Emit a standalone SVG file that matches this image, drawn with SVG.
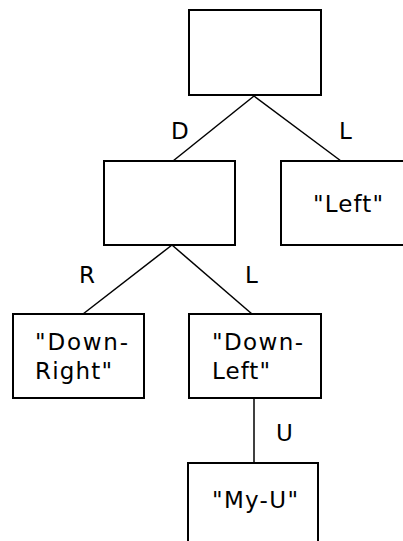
<svg xmlns="http://www.w3.org/2000/svg" width="403" height="541" viewBox="0 0 403 541">
  <style>
    .box { fill: #ffffff; stroke: #000000; stroke-width: 2; }
    .edge { fill: none; stroke: #000000; stroke-width: 1.5; }
    text { font-family: "DejaVu Sans", "Liberation Sans", sans-serif; font-size: 23px; fill: #000000; }
  </style>
  <rect width="403" height="541" fill="#ffffff"/>

  <g id="connectors">
    <line class="edge" x1="254" y1="96" x2="173" y2="161"/>
    <line class="edge" x1="254" y1="96" x2="341" y2="161"/>
    <line class="edge" x1="172" y1="245" x2="83" y2="314"/>
    <line class="edge" x1="172" y1="245" x2="252" y2="314"/>
    <line class="edge" x1="254" y1="397" x2="254" y2="463"/>
    <text x="171" y="139">D</text>
    <text x="339" y="139">L</text>
    <text x="79" y="283">R</text>
    <text x="245" y="283">L</text>
    <text x="276" y="441">U</text>
  </g>

  <g id="root">
    <rect class="box" x="189" y="10" width="132" height="85"/>
  </g>

  <g id="down">
    <rect class="box" x="104" y="161" width="131" height="84"/>
  </g>

  <g id="left">
    <rect class="box" x="281" y="161" width="140" height="84"/>
    <text x="313" y="212" textLength="70" lengthAdjust="spacing">"Left"</text>
  </g>

  <g id="down-right">
    <rect class="box" x="13" y="314" width="131" height="84"/>
    <text x="35" y="350" textLength="93" lengthAdjust="spacing">"Down-</text>
    <text x="35" y="379" textLength="77" lengthAdjust="spacing">Right"</text>
  </g>

  <g id="down-left">
    <rect class="box" x="189" y="314" width="132" height="84"/>
    <text x="212" y="350" textLength="91" lengthAdjust="spacing">"Down-</text>
    <text x="212" y="379" textLength="58" lengthAdjust="spacing">Left"</text>
  </g>

  <g id="my-u">
    <rect class="box" x="188" y="463" width="130" height="90"/>
    <text x="212" y="508" textLength="86" lengthAdjust="spacing">"My-U"</text>
  </g>
</svg>
